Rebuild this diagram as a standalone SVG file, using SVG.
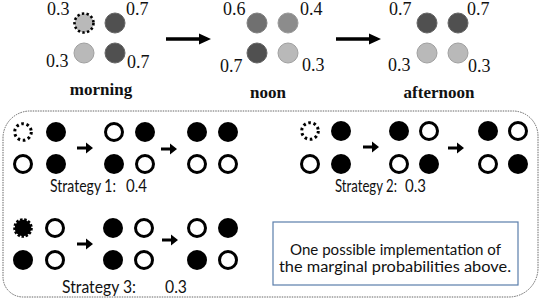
<svg xmlns="http://www.w3.org/2000/svg" width="542" height="302" viewBox="0 0 542 302">
<defs>
<style>
.num{font-family:"Liberation Serif","Times New Roman",serif;font-size:18px;fill:#111}
.cap{font-family:"Liberation Serif","Times New Roman",serif;font-size:17px;font-weight:bold;fill:#111;text-anchor:middle}
.st{font-family:Lato,"Open Sans",sans-serif;font-size:16.5px;fill:#111}
.note{font-family:Lato,"Open Sans",sans-serif;font-size:14.5px;fill:#111;text-anchor:middle}
.dk{fill:#505050;stroke:#666;stroke-width:1}
.md{fill:#707070;stroke:#808080;stroke-width:1}
.mg{fill:#8c8c8c;stroke:#999;stroke-width:1}
.lt{fill:#b9b9b9;stroke:#a0a0a0;stroke-width:1}
.dotlt{fill:#b9b9b9;stroke:#000;stroke-width:2.6;stroke-dasharray:2.4 2.3}
.b{fill:#000}
.h{fill:none;stroke:#000;stroke-width:3}
.dz{fill:none;stroke:#000;stroke-width:3;stroke-dasharray:2.6 2.7}
.jg{fill:#000;stroke:#000;stroke-width:3;stroke-dasharray:2.4 1.6}
.ar{fill:#000}
</style>
</defs>
<g id="morning">
<circle class="dotlt" cx="84" cy="23" r="9.5"/>
<circle class="dk" cx="115" cy="23" r="10"/>
<circle class="lt" cx="84" cy="53" r="10"/>
<circle class="dk" cx="115" cy="53" r="10"/>
<text class="num" x="47" y="15">0.3</text>
<text class="num" x="126" y="15">0.7</text>
<text class="num" x="46" y="67">0.3</text>
<text class="num" x="127" y="68">0.7</text>
<text class="cap" x="101" y="95">morning</text>
</g>
<g id="noon">
<circle class="md" cx="257" cy="23" r="10"/>
<circle class="mg" cx="288" cy="23" r="10"/>
<circle class="dk" cx="257" cy="53" r="10"/>
<circle class="lt" cx="288" cy="53" r="10"/>
<text class="num" x="223" y="15">0.6</text>
<text class="num" x="300" y="15">0.4</text>
<text class="num" x="220" y="72">0.7</text>
<text class="num" x="302" y="71">0.3</text>
<text class="cap" x="268" y="98">noon</text>
</g>
<g id="afternoon">
<circle class="dk" cx="427" cy="23" r="10"/>
<circle class="dk" cx="458" cy="23" r="10"/>
<circle class="lt" cx="427" cy="53" r="10"/>
<circle class="lt" cx="458" cy="53" r="10"/>
<text class="num" x="389" y="15">0.7</text>
<text class="num" x="467" y="15">0.7</text>
<text class="num" x="388" y="71">0.3</text>
<text class="num" x="468" y="72">0.3</text>
<text class="cap" x="439" y="98">afternoon</text>
</g>
<g id="connectors">
<path class="ar" d="M166,37.2 H199 V33.5 L211,39 L199,44.5 V40.8 H166 Z"/>
<path class="ar" d="M336,37.2 H369 V33.5 L381,39 L369,44.5 V40.8 H336 Z"/>
<path class="ar" d="M77,146.5 H86 V142.5 L93,148 L86,153.5 V149.5 H77 Z"/>
<path class="ar" d="M161,147.5 H170 V143.5 L177,149 L170,154.5 V150.5 H161 Z"/>
<path class="ar" d="M363,145.5 H372 V141.5 L379,147 L372,152.5 V148.5 H363 Z"/>
<path class="ar" d="M448,146.5 H457 V142.5 L464,148 L457,153.5 V149.5 H448 Z"/>
<path class="ar" d="M77,242.5 H86 V238.5 L93,244 L86,249.5 V245.5 H77 Z"/>
<path class="ar" d="M162,238.5 H171 V234.5 L178,240 L171,245.5 V241.5 H162 Z"/>
</g>
<g id="panel">
<path d="M3,138 A27,27 0 0 1 30,111 L513,111 A25,25 0 0 1 538,136 L538,268 A29,29 0 0 1 509,297 L23,297 A20,20 0 0 1 3,277 Z" fill="none" stroke="#666" stroke-width="1" stroke-dasharray="1.5 1"/>
</g>
<g id="strategy1">
<circle class="dz" cx="23" cy="132" r="8.3"/>
<circle class="b" cx="56" cy="132" r="10"/>
<circle class="h" cx="23" cy="164" r="8.5"/>
<circle class="b" cx="56" cy="164" r="10"/>
<circle class="h" cx="114" cy="132" r="8.5"/>
<circle class="b" cx="145" cy="132" r="10"/>
<circle class="b" cx="114" cy="164" r="10"/>
<circle class="h" cx="145" cy="164" r="8.5"/>
<circle class="b" cx="197" cy="132" r="10"/>
<circle class="b" cx="228" cy="132" r="10"/>
<circle class="h" cx="197" cy="164" r="8.5"/>
<circle class="h" cx="228" cy="164" r="8.5"/>
<text class="st" y="192"><tspan x="50" textLength="66" lengthAdjust="spacingAndGlyphs">Strategy 1:</tspan><tspan x="126" textLength="21" lengthAdjust="spacingAndGlyphs">0.4</tspan></text>
</g>
<g id="strategy2">
<circle class="dz" cx="310" cy="131" r="8.3"/>
<circle class="b" cx="341" cy="131" r="10"/>
<circle class="h" cx="310" cy="164" r="8.5"/>
<circle class="b" cx="341" cy="164" r="10"/>
<circle class="b" cx="399" cy="131" r="10"/>
<circle class="h" cx="429" cy="131" r="8.5"/>
<circle class="h" cx="399" cy="164" r="8.5"/>
<circle class="b" cx="429" cy="164" r="10"/>
<circle class="b" cx="488" cy="131" r="10"/>
<circle class="h" cx="518" cy="131" r="8.5"/>
<circle class="h" cx="488" cy="164" r="8.5"/>
<circle class="b" cx="518" cy="164" r="10"/>
<text class="st" y="192"><tspan x="335" textLength="62" lengthAdjust="spacingAndGlyphs">Strategy 2:</tspan><tspan x="405" textLength="21" lengthAdjust="spacingAndGlyphs">0.3</tspan></text>
</g>
<g id="strategy3">
<circle class="jg" cx="23" cy="228" r="8.3"/>
<circle class="h" cx="55" cy="228" r="8.5"/>
<circle class="b" cx="23" cy="260" r="10"/>
<circle class="h" cx="55" cy="260" r="8.5"/>
<circle class="b" cx="113" cy="228" r="10"/>
<circle class="h" cx="144" cy="228" r="8.5"/>
<circle class="b" cx="113" cy="260" r="10"/>
<circle class="h" cx="144" cy="260" r="8.5"/>
<circle class="h" cx="197" cy="228" r="8.5"/>
<circle class="b" cx="228" cy="228" r="10"/>
<circle class="b" cx="197" cy="260" r="10"/>
<circle class="h" cx="228" cy="260" r="8.5"/>
<text class="st" y="293"><tspan x="62" textLength="74" lengthAdjust="spacingAndGlyphs">Strategy 3:</tspan><tspan x="165" textLength="22" lengthAdjust="spacingAndGlyphs">0.3</tspan></text>
</g>
<g id="note">
<rect x="273" y="222" width="245" height="63" fill="#fff" stroke="#5a7eab" stroke-width="1.2"/>
<text class="note" x="395.5" y="255" textLength="211" lengthAdjust="spacingAndGlyphs">One possible implementation of</text>
<text class="note" x="395" y="272" textLength="232" lengthAdjust="spacingAndGlyphs">the marginal probabilities above.</text>
</g>
</svg>
